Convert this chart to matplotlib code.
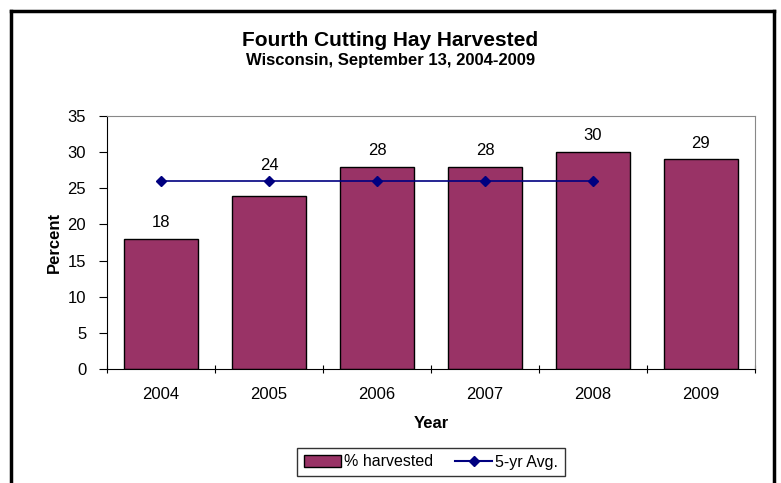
import matplotlib.pyplot as plt
from matplotlib.lines import Line2D

plt.rcParams['font.family'] = ['Liberation Sans', 'DejaVu Sans']

years = ['2004', '2005', '2006', '2007', '2008', '2009']
harvested = [18, 24, 28, 28, 30, 29]
avg_years = ['2004', '2005', '2006', '2007', '2008']
five_yr_avg = [26, 26, 26, 26, 26]

fig = plt.figure(figsize=(7.81, 4.83), dpi=100)
W, H = 781, 483
ax = fig.add_axes([107 / W, 1 - 369 / H, (755 - 107) / W, (369 - 116) / H])

x = list(range(len(years)))
ax.bar(x, harvested, width=0.68, color='#993366', edgecolor='black', linewidth=1, zorder=2)
ax.plot(x[:len(avg_years)], five_yr_avg, color='#000080', marker='D', markersize=5.5,
        linewidth=1.2, zorder=3)

# the 2005 label sits above the average line, as in the original
label_shift = {1: 1.9}
for xi, v in zip(x, harvested):
    ax.text(xi, v + 1.2 + label_shift.get(xi, 0), str(v), ha='center', va='bottom',
            fontsize=12)

ax.set_xlim(-0.5, 5.5)
ax.set_ylim(0, 35)
ax.set_yticks(range(0, 36, 5))
ax.set_xticks([i - 0.5 for i in range(7)])
ax.set_xticklabels([])
ax.set_xticks(x, minor=True)
ax.set_xticklabels(years, minor=True)
ax.tick_params(axis='x', which='minor', length=0, labelsize=12, pad=13)
ax.tick_params(axis='x', which='major', length=6, direction='inout')
ax.tick_params(axis='y', length=6, direction='out', labelsize=12, pad=9)

for s in ['top', 'right']:
    ax.spines[s].set_color('#888888')
ax.spines['left'].set_color('black')
ax.spines['bottom'].set_color('black')

ax.set_xlabel('Year', fontsize=12, fontweight='bold', labelpad=10)
ax.set_ylabel('Percent', fontsize=12, fontweight='bold', labelpad=4)

fig.text(0.5, 1 - 40 / H, 'Fourth Cutting Hay Harvested', ha='center', va='center',
         fontsize=15, fontweight='bold')
fig.text(0.5, 1 - 60 / H, 'Wisconsin, September 13, 2004-2009', ha='center', va='center',
         fontsize=12, fontweight='bold')

handles = [plt.Rectangle((0, 0), 1, 1, facecolor='#993366', edgecolor='black'),
           Line2D([], [], color='#000080', marker='D', markersize=5)]
leg = fig.legend(handles, ['% harvested', '5-yr Avg.'], loc='center',
                 bbox_to_anchor=(431 / W, 1 - 462 / H), ncol=2, frameon=True,
                 fancybox=False, edgecolor='black', fontsize=11.5, handlelength=2.3,
                 handletextpad=0.2, columnspacing=1.4, borderpad=0.4)
leg.get_frame().set_linewidth(1)

# outer border (bottom edge cut off)
border_kw = dict(color='black', linewidth=2.5, transform=fig.transFigure)
fig.add_artist(Line2D([11 / W, 11 / W], [0, 1 - 11 / H], **border_kw))
fig.add_artist(Line2D([11 / W, 774 / W], [1 - 11 / H, 1 - 11 / H], **border_kw))
fig.add_artist(Line2D([774 / W, 774 / W], [0, 1 - 11 / H], **border_kw))

fig.savefig('out.png', dpi=100)
